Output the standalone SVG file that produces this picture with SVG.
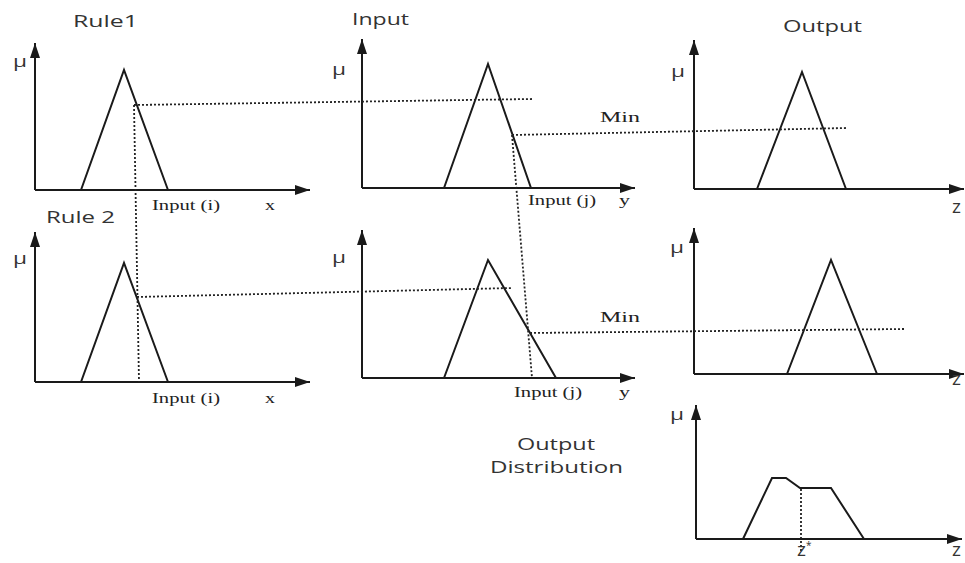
<svg xmlns="http://www.w3.org/2000/svg" width="965" height="563" viewBox="0 0 965 563">
  <defs>
    <marker id="arrow" markerUnits="userSpaceOnUse" markerWidth="16" markerHeight="12" refX="15" refY="6" orient="auto">
      <path d="M0,1 L15,6 L0,11 Z" fill="#1a1a1a"/>
    </marker>
    <style>
      .axis { stroke: #1a1a1a; stroke-width: 2; fill: none; marker-end: url(#arrow); }
      .mf { stroke: #1a1a1a; stroke-width: 2; fill: none; stroke-linejoin: miter; }
      .dot { stroke: #222; stroke-width: 1.8; stroke-dasharray: 2 2; fill: none; }
      .title { font-family: "Open Sans", "Liberation Sans", sans-serif; font-size: 16px; fill: #333; }
      .mu { font-family: "Open Sans", "Liberation Sans", sans-serif; font-size: 16px; fill: #333; }
      .lbl { font-family: "Liberation Serif", serif; font-size: 15px; fill: #222; }
      .zl { font-family: "Open Sans", "Liberation Sans", sans-serif; font-size: 19px; fill: #333; }
    </style>
  </defs>

  <rect width="965" height="563" fill="#ffffff"/>

  <!-- Section titles -->
  <g id="titles">
    <text class="title" x="73" y="27" textLength="65" lengthAdjust="spacingAndGlyphs">Rule1</text>
    <text class="title" x="352" y="25" textLength="57" lengthAdjust="spacingAndGlyphs">Input</text>
    <text class="title" x="783" y="32" textLength="79" lengthAdjust="spacingAndGlyphs">Output</text>
    <text class="title" x="46" y="223" textLength="69" lengthAdjust="spacingAndGlyphs">Rule 2</text>
    <text class="title" x="517" y="450" textLength="78" lengthAdjust="spacingAndGlyphs">Output</text>
    <text class="title" x="490" y="473" textLength="133" lengthAdjust="spacingAndGlyphs">Distribution</text>
  </g>

  <!-- Rule 1, input x -->
  <g id="rule1-x">
    <line class="axis" x1="35" y1="190" x2="35" y2="43"/>
    <line class="axis" x1="35" y1="190" x2="310" y2="190"/>
    <polyline class="mf" points="81,190 124,70 168,190"/>
    <text class="mu" x="13" y="67" textLength="14" lengthAdjust="spacingAndGlyphs">μ</text>
    <text class="lbl" x="152" y="210" textLength="68" lengthAdjust="spacingAndGlyphs">Input (i)</text>
    <text class="lbl" x="265" y="210" textLength="10" lengthAdjust="spacingAndGlyphs">x</text>
  </g>

  <!-- Rule 1, input y -->
  <g id="rule1-y">
    <line class="axis" x1="362" y1="188" x2="362" y2="39"/>
    <line class="axis" x1="362" y1="188" x2="635" y2="188"/>
    <polyline class="mf" points="444,188 488,64 531,188"/>
    <text class="mu" x="332" y="75" textLength="14" lengthAdjust="spacingAndGlyphs">μ</text>
    <text class="lbl" x="528" y="205" textLength="68" lengthAdjust="spacingAndGlyphs">Input (j)</text>
    <text class="lbl" x="619" y="205" textLength="11" lengthAdjust="spacingAndGlyphs">y</text>
    <text class="lbl" x="600" y="122" textLength="40" lengthAdjust="spacingAndGlyphs">Min</text>
  </g>

  <!-- Rule 1, output z -->
  <g id="rule1-z">
    <line class="axis" x1="694" y1="189" x2="694" y2="40"/>
    <line class="axis" x1="694" y1="189" x2="964" y2="189"/>
    <polyline class="mf" points="757,189 802,72 846,189"/>
    <text class="mu" x="671" y="77" textLength="14" lengthAdjust="spacingAndGlyphs">μ</text>
    <text class="zl" x="952" y="213">z</text>
  </g>

  <!-- Rule 2, input x -->
  <g id="rule2-x">
    <line class="axis" x1="35" y1="382" x2="35" y2="232"/>
    <line class="axis" x1="35" y1="382" x2="310" y2="382"/>
    <polyline class="mf" points="81,382 124,263 168,382"/>
    <text class="mu" x="13" y="264" textLength="14" lengthAdjust="spacingAndGlyphs">μ</text>
    <text class="lbl" x="152" y="403" textLength="68" lengthAdjust="spacingAndGlyphs">Input (i)</text>
    <text class="lbl" x="265" y="403" textLength="10" lengthAdjust="spacingAndGlyphs">x</text>
  </g>

  <!-- Rule 2, input y -->
  <g id="rule2-y">
    <line class="axis" x1="362" y1="378" x2="362" y2="230"/>
    <line class="axis" x1="362" y1="378" x2="635" y2="378"/>
    <polyline class="mf" points="444,378 488,260 556,378"/>
    <text class="mu" x="332" y="263" textLength="14" lengthAdjust="spacingAndGlyphs">μ</text>
    <text class="lbl" x="514" y="397" textLength="68" lengthAdjust="spacingAndGlyphs">Input (j)</text>
    <text class="lbl" x="619" y="397" textLength="11" lengthAdjust="spacingAndGlyphs">y</text>
    <text class="lbl" x="600" y="322" textLength="40" lengthAdjust="spacingAndGlyphs">Min</text>
  </g>

  <!-- Rule 2, output z -->
  <g id="rule2-z">
    <line class="axis" x1="694" y1="374" x2="694" y2="228"/>
    <line class="axis" x1="694" y1="374" x2="964" y2="374"/>
    <polyline class="mf" points="787,374 831,260 877,374"/>
    <text class="mu" x="670" y="253" textLength="14" lengthAdjust="spacingAndGlyphs">μ</text>
    <text class="zl" x="952" y="385">z</text>
  </g>

  <!-- Aggregated output distribution -->
  <g id="output-distribution">
    <line class="axis" x1="696" y1="539" x2="696" y2="405"/>
    <line class="axis" x1="696" y1="539" x2="962" y2="539"/>
    <polyline class="mf" points="743,539 772,478 786,478 800,488 831,488 864,539"/>
    <line class="dot" x1="801" y1="489" x2="801" y2="551" stroke-dasharray="1.5 1.5"/>
    <text class="mu" x="670" y="420" textLength="14" lengthAdjust="spacingAndGlyphs">μ</text>
    <text class="zl" x="797" y="556" font-size="16">z<tspan font-size="10" dy="-7">*</tspan></text>
    <text class="zl" x="952" y="556" font-size="16">z</text>
  </g>

  <!-- Dotted projection lines -->
  <g id="connectors">
    <line class="dot" x1="134" y1="105" x2="532" y2="99"/>
    <line class="dot" x1="134" y1="105" x2="139" y2="382"/>
    <line class="dot" x1="137" y1="297" x2="512" y2="288"/>
    <line class="dot" x1="512" y1="135" x2="847" y2="128"/>
    <line class="dot" x1="512" y1="135" x2="532" y2="378"/>
    <line class="dot" x1="530" y1="333" x2="904" y2="329"/>
  </g>
</svg>
